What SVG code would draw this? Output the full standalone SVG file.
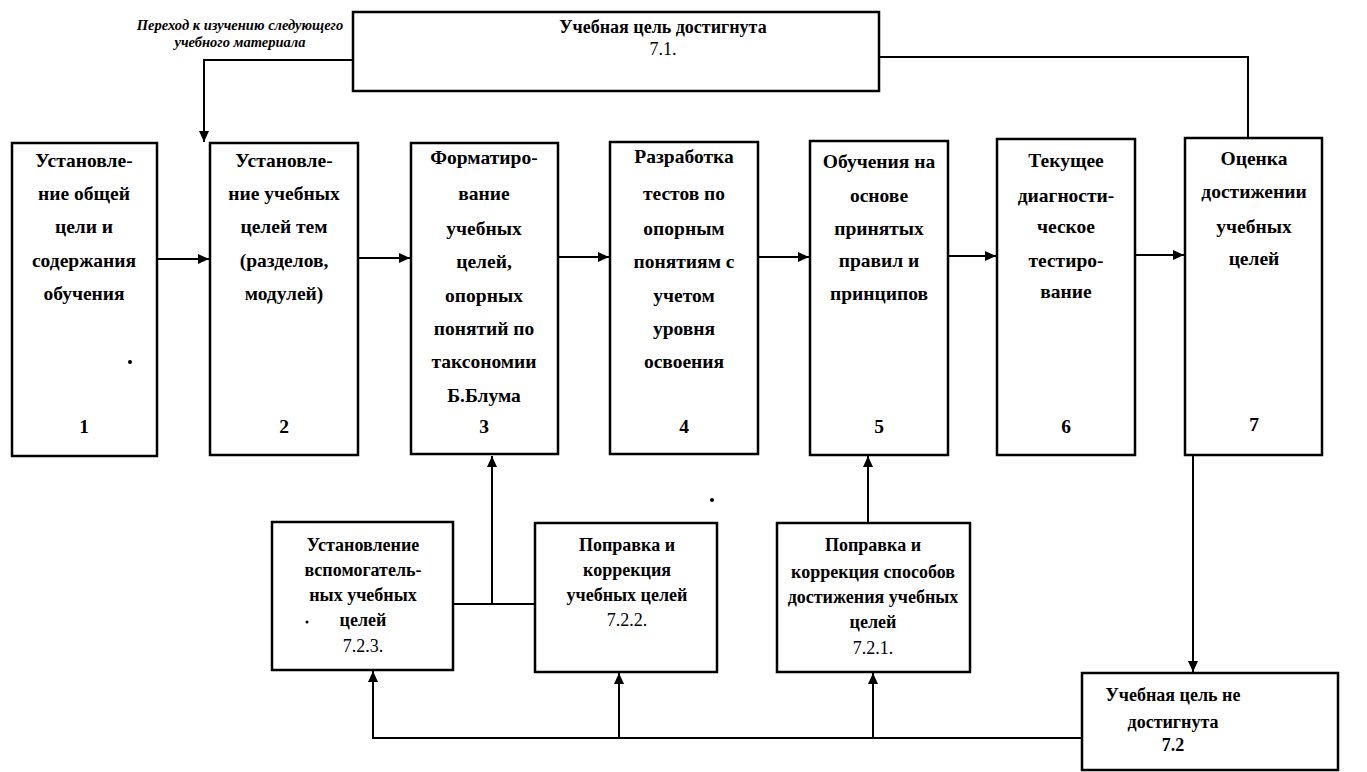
<svg xmlns="http://www.w3.org/2000/svg" width="1367" height="772" viewBox="0 0 1367 772">
<style>
.box{fill:#fff;stroke:#000;stroke-width:2.5}
.t{font-family:"Liberation Serif",serif;font-size:19.5px;font-weight:bold;text-anchor:middle;fill:#000}
.s{font-family:"Liberation Serif",serif;font-size:18px;font-weight:bold;text-anchor:middle;fill:#000}
.n{font-weight:normal}
.it{font-family:"Liberation Serif",serif;font-size:14.5px;font-style:italic;font-weight:bold;text-anchor:middle;fill:#000}
.c{fill:none;stroke:#000;stroke-width:2}
</style>
<defs>
<marker id="a" markerUnits="userSpaceOnUse" markerWidth="12" markerHeight="10" refX="11" refY="5" orient="auto">
<path d="M0,0 L11,5 L0,10 Z" fill="#000"/>
</marker>
</defs>
<rect width="1367" height="772" fill="#fff"/>
<g id="connectors">
<path class="c" d="M353,60 H204 V142" marker-end="url(#a)"/>
<path class="c" d="M879,57 H1248 V138"/>
<path class="c" d="M157,259 H209" marker-end="url(#a)"/>
<path class="c" d="M358,258 H410" marker-end="url(#a)"/>
<path class="c" d="M558,257 H609" marker-end="url(#a)"/>
<path class="c" d="M758,257 H809" marker-end="url(#a)"/>
<path class="c" d="M948,256 H996" marker-end="url(#a)"/>
<path class="c" d="M1135,255 H1184" marker-end="url(#a)"/>
<path class="c" d="M453,604 H535"/>
<path class="c" d="M492,604 V456" marker-end="url(#a)"/>
<path class="c" d="M868,523 V456" marker-end="url(#a)"/>
<path class="c" d="M1193,456 V672" marker-end="url(#a)"/>
<path class="c" d="M1082,738 H373 V671" marker-end="url(#a)"/>
<path class="c" d="M619,738 V673" marker-end="url(#a)"/>
<path class="c" d="M873,738 V673" marker-end="url(#a)"/>
</g>
<text class="it" x="240" y="30">Переход к изучению следующего</text>
<text class="it" x="240" y="47">учебного материала</text>
<g id="n71">
<rect class="box" x="353" y="12" width="526" height="79"/>
<text class="s" x="663" y="33">Учебная цель достигнута</text>
<text class="s n" x="663" y="55">7.1.</text>
</g>
<g id="n1">
<rect class="box" x="12" y="143" width="145" height="313"/>
<text class="t" x="84" y="167">Установле-</text>
<text class="t" x="84" y="200">ние общей</text>
<text class="t" x="84" y="233">цели и</text>
<text class="t" x="84" y="267">содержания</text>
<text class="t" x="84" y="300">обучения</text>
<text class="t" x="84" y="433">1</text>
<circle cx="130" cy="362" r="2"/>
</g>
<g id="n2">
<rect class="box" x="210" y="143" width="148" height="312"/>
<text class="t" x="284" y="167">Установле-</text>
<text class="t" x="284" y="200">ние учебных</text>
<text class="t" x="284" y="233">целей тем</text>
<text class="t" x="284" y="267">(разделов,</text>
<text class="t" x="284" y="300">модулей)</text>
<text class="t" x="284" y="433">2</text>
</g>
<g id="n3">
<rect class="box" x="411" y="143" width="147" height="311"/>
<text class="t" x="484" y="164">Форматиро-</text>
<text class="t" x="484" y="200">вание</text>
<text class="t" x="484" y="235">учебных</text>
<text class="t" x="484" y="268">целей,</text>
<text class="t" x="484" y="302">опорных</text>
<text class="t" x="484" y="335">понятий по</text>
<text class="t" x="484" y="368">таксономии</text>
<text class="t" x="484" y="402">Б.Блума</text>
<text class="t" x="484" y="433">3</text>
</g>
<g id="n4">
<rect class="box" x="610" y="142" width="148" height="312"/>
<text class="t" x="684" y="163">Разработка</text>
<text class="t" x="684" y="200">тестов по</text>
<text class="t" x="684" y="235">опорным</text>
<text class="t" x="684" y="268">понятиям с</text>
<text class="t" x="684" y="302">учетом</text>
<text class="t" x="684" y="335">уровня</text>
<text class="t" x="684" y="368">освоения</text>
<text class="t" x="684" y="433">4</text>
</g>
<g id="n5">
<rect class="box" x="810" y="141" width="138" height="314"/>
<text class="t" x="879" y="168">Обучения на</text>
<text class="t" x="879" y="202">основе</text>
<text class="t" x="879" y="235">принятых</text>
<text class="t" x="879" y="267">правил и</text>
<text class="t" x="879" y="300">принципов</text>
<text class="t" x="879" y="433">5</text>
</g>
<g id="n6">
<rect class="box" x="997" y="139" width="138" height="316"/>
<text class="t" x="1066" y="167">Текущее</text>
<text class="t" x="1066" y="202">диагности-</text>
<text class="t" x="1066" y="233">ческое</text>
<text class="t" x="1066" y="267">тестиро-</text>
<text class="t" x="1066" y="298">вание</text>
<text class="t" x="1066" y="433">6</text>
</g>
<circle cx="1187" cy="202" r="1.5"/>
<g id="n7">
<rect class="box" x="1185" y="138" width="137" height="317"/>
<text class="t" x="1254" y="165">Оценка</text>
<text class="t" x="1254" y="198">достижении</text>
<text class="t" x="1254" y="233">учебных</text>
<text class="t" x="1254" y="265">целей</text>
<text class="t" x="1254" y="431">7</text>
</g>
<g id="n723">
<rect class="box" x="272" y="522" width="181" height="148"/>
<text class="s" x="363" y="551">Установление</text>
<text class="s" x="363" y="576">вспомогатель-</text>
<text class="s" x="363" y="601">ных учебных</text>
<text class="s" x="363" y="626">целей</text>
<text class="s n" x="363" y="652">7.2.3.</text>
<circle cx="307" cy="622" r="1.5"/>
</g>
<circle cx="712" cy="500" r="2"/>
<g id="n722">
<rect class="box" x="535" y="523" width="182" height="149"/>
<text class="s" x="627" y="551">Поправка и</text>
<text class="s" x="627" y="576">коррекция</text>
<text class="s" x="627" y="601">учебных целей</text>
<text class="s n" x="627" y="626">7.2.2.</text>
</g>
<g id="n721">
<rect class="box" x="777" y="523" width="193" height="149"/>
<text class="s" x="873" y="551">Поправка и</text>
<text class="s" x="873" y="578">коррекция способов</text>
<text class="s" x="873" y="603">достижения учебных</text>
<text class="s" x="873" y="628">целей</text>
<text class="s n" x="873" y="654">7.2.1.</text>
</g>
<g id="n72">
<rect class="box" x="1082" y="673" width="256" height="97"/>
<text class="s" x="1173" y="701">Учебная цель не</text>
<text class="s" x="1173" y="728">достигнута</text>
<text class="s" x="1173" y="751">7.2</text>
</g>
</svg>
